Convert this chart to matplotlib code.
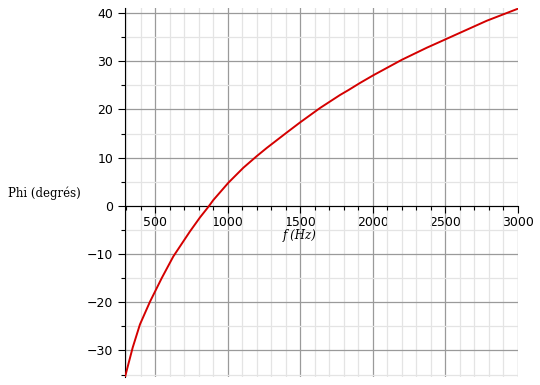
import matplotlib
matplotlib.use("Agg")
import matplotlib.pyplot as plt
from matplotlib.ticker import MultipleLocator

# phase (Hz -> degrees)
freq = [290, 343, 393, 462, 543, 623, 738, 807, 865, 899, 1003, 1106, 1198,
        1267, 1405, 1497, 1635, 1773, 1830, 1911, 2003, 2199, 2371, 2497,
        2578, 2785, 3000]
phi = [-35.5, -29.4, -24.6, -19.9, -15.0, -10.5, -5.3, -2.4, -0.2, 1.2, 4.8,
       7.9, 10.3, 12.0, 15.2, 17.3, 20.3, 23.0, 24.0, 25.5, 27.1, 30.3,
       32.8, 34.5, 35.6, 38.4, 40.9]

xticks = [500, 1000, 1500, 2000, 2500, 3000]
yticks = [-30, -20, -10, 0, 10, 20, 30, 40]

fig = plt.figure(figsize=(5.4, 3.85), dpi=100)
ax = fig.add_axes([125 / 540, 8 / 385, (518 - 125) / 540, (377 - 8) / 385])

ax.plot(freq, phi, color="#d40000", lw=1.4, zorder=3)
ax.set_xlim(290, 3000)
ax.set_ylim(-35.5, 41.04)

ax.set_xticks(xticks)
ax.set_yticks(yticks)
ax.xaxis.set_minor_locator(MultipleLocator(100))
ax.yaxis.set_minor_locator(MultipleLocator(5))
ax.grid(which="major", color="#9a9a9a", lw=0.9)
ax.grid(which="minor", color="#e4e4e4", lw=0.9)
ax.set_axisbelow(True)

for s in ["top", "right"]:
    ax.spines[s].set_visible(False)
ax.spines["bottom"].set_position(("data", 0))
ax.spines["bottom"].set_color("black")
ax.spines["left"].set_color("black")
ax.tick_params(which="major", length=5, width=0.8, labelsize=9, direction="out")
ax.tick_params(which="minor", length=3, width=0.8, direction="out")
ax.tick_params(axis="x", pad=2)
ax.set_yticklabels([str(v).replace("-", "\u2212") for v in yticks])

fig.text(8 / 540, 1 - 193 / 385, "Phi (degrés)", family="DejaVu Serif",
         fontsize=8.5, va="center", ha="left")
fig.text(300 / 540, 1 - 236 / 385, "f (Hz)", family="DejaVu Serif",
         style="italic", fontsize=8.5, va="center", ha="center")

fig.savefig("out.png", dpi=100)
